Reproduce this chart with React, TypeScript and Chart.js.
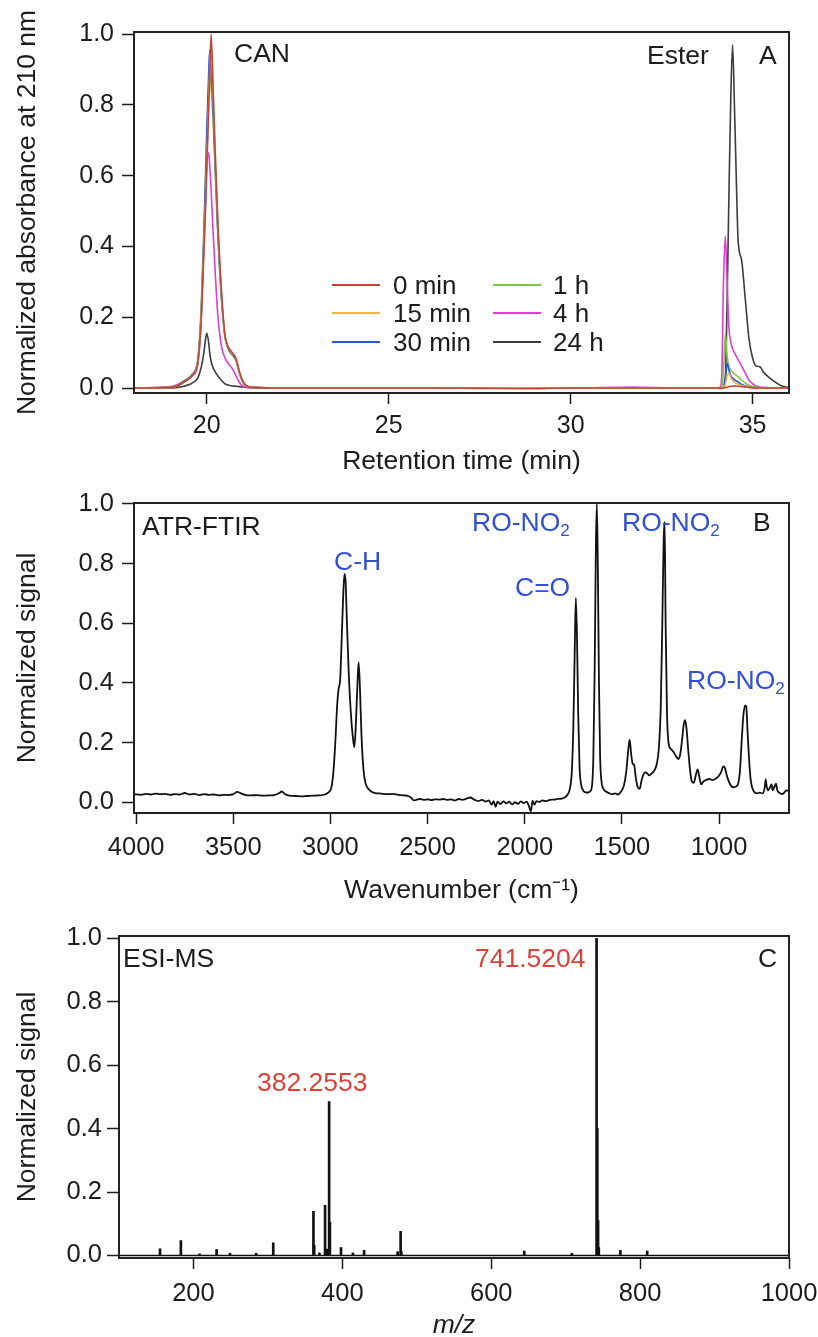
import React, { useEffect, useRef } from "react";
import { Chart, registerables } from "chart.js";

Chart.register(...registerables);

const FONT = "'Liberation Sans', Arial, Helvetica, sans-serif";
const INK = "#1c1c1c";
const NOTE_BLUE = "#3150d6";
const NOTE_RED = "#d8433c";

// ---------------- Panel A : HPLC chromatograms ----------------
const retentionTime = [
  18.0, 19.0, 19.2, 19.4, 19.6, 19.75, 19.85, 19.92, 19.97, 20.0,
  20.05, 20.08, 20.12, 20.17, 20.22, 20.3, 20.4, 20.5, 20.6, 20.7,
  20.8, 20.9, 21.0, 21.1, 21.3,
  22.0, 24.0, 26.0, 27.5, 28.7, 30.0, 31.7, 33.0, 34.0,
  34.1, 34.15, 34.2, 34.25, 34.3, 34.35, 34.4, 34.45, 34.5, 34.55,
  34.6, 34.7, 34.8, 34.9, 35.0, 35.1, 35.2, 35.3, 35.45, 35.6, 35.8, 36.0,
];
const abs0min = [
  0.0, 0.002, 0.006, 0.018, 0.035, 0.07, 0.2, 0.38, 0.52, 0.62,
  0.78, 0.88, 1.0, 0.86, 0.7, 0.48, 0.28, 0.15, 0.115, 0.1,
  0.085, 0.045, 0.018, 0.006, 0.002,
  0.0, 0.0, 0.0, -0.001, -0.002, 0.0, 0.0, 0.0, 0.0,
  -0.001, 0.0, 0.0, 0.001, 0.002, 0.004, 0.005, 0.005, 0.006, 0.005,
  0.005, 0.004, 0.003, 0.002, 0.001, 0.0, 0.0, 0.0, 0.0, 0.0, 0.0, 0.0,
];
const abs15min = [
  0.0, 0.002, 0.006, 0.018, 0.036, 0.072, 0.21, 0.4, 0.54, 0.64,
  0.8, 0.9, 0.975, 0.84, 0.69, 0.47, 0.275, 0.148, 0.113, 0.098,
  0.083, 0.044, 0.017, 0.006, 0.002,
  0.0, 0.0, 0.0, 0.0, 0.0, 0.0, 0.001, 0.0, 0.0,
  0.0, 0.0, 0.002, 0.01, 0.035, 0.042, 0.03, 0.022, 0.016, 0.013,
  0.011, 0.007, 0.004, 0.002, 0.001, 0.0, 0.0, 0.0, 0.0, 0.0, 0.0, 0.0,
];
const abs30min = [
  0.0, 0.002, 0.007, 0.02, 0.038, 0.075, 0.22, 0.43, 0.6, 0.72,
  0.88, 0.955, 0.9, 0.8, 0.66, 0.45, 0.26, 0.145, 0.11, 0.095,
  0.08, 0.042, 0.016, 0.005, 0.002,
  0.0, 0.0, 0.0, 0.0, 0.0, 0.0, 0.001, 0.0, 0.0,
  0.0, 0.0, 0.003, 0.03, 0.07, 0.05, 0.035, 0.028, 0.024, 0.02,
  0.017, 0.01, 0.006, 0.003, 0.001, 0.0, 0.0, 0.0, 0.0, 0.0, 0.0, 0.0,
];
const abs1h = [
  0.0, 0.003, 0.008, 0.022, 0.04, 0.08, 0.24, 0.45, 0.62, 0.72,
  0.84, 0.885, 0.85, 0.76, 0.64, 0.44, 0.26, 0.145, 0.108, 0.093,
  0.078, 0.04, 0.015, 0.005, 0.002,
  0.0, 0.0, 0.0, 0.0, 0.0, 0.0, 0.001, 0.0, 0.0,
  0.0, 0.001, 0.05, 0.155, 0.09, 0.06, 0.05, 0.045, 0.04, 0.036,
  0.032, 0.022, 0.014, 0.008, 0.004, 0.002, 0.001, 0.0, 0.0, 0.0, 0.0, 0.0,
];
const abs4h = [
  0.0, 0.004, 0.01, 0.022, 0.035, 0.065, 0.2, 0.42, 0.56, 0.63,
  0.665, 0.63, 0.56, 0.45, 0.35, 0.21, 0.12, 0.085, 0.068, 0.055,
  0.035, 0.015, 0.005, 0.002, 0.001,
  0.0, 0.0, 0.0, 0.001, 0.0, 0.0, 0.003, 0.0, 0.0,
  0.002, 0.03, 0.3, 0.43, 0.3, 0.17, 0.13, 0.11, 0.1, 0.09,
  0.08, 0.062, 0.042, 0.022, 0.012, 0.006, 0.003, 0.002, 0.001, 0.0, 0.0, 0.0,
];
const abs24h = [
  0.0, 0.0, 0.002, 0.006, 0.014, 0.028, 0.06, 0.1, 0.14, 0.155,
  0.13, 0.1, 0.075, 0.058, 0.048, 0.035, 0.022, 0.012, 0.008, 0.006,
  0.005, 0.004, 0.003, 0.002, 0.001,
  0.0, 0.0, 0.0, 0.0, 0.0, 0.0, 0.001, 0.0, 0.0,
  0.0, 0.0, 0.0, 0.02, 0.25, 0.55, 0.82, 0.97, 0.8, 0.6,
  0.42, 0.36, 0.25, 0.14, 0.085, 0.062, 0.06, 0.045, 0.03, 0.018, 0.006, 0.002,
];
const seriesLabels = ["0 min", "15 min", "30 min", "1 h", "4 h", "24 h"];
const seriesColors = ["#c0463a", "#f2b446", "#2a52e0", "#80c24e", "#e03ed2", "#3c3c3c"];
const timeTicks = [20, 25, 30, 35];
const normTicks = [0, 0.2, 0.4, 0.6, 0.8, 1.0];

// ---------------- Panel B : ATR-FTIR ----------------
const wavenumber = [
  4010, 3975, 3950, 3925, 3900, 3875, 3850, 3825, 3800, 3775,
  3750, 3725, 3700, 3675, 3650, 3625, 3600, 3575, 3550, 3525,
  3500, 3480, 3460, 3440, 3410, 3380, 3350, 3320, 3290, 3265,
  3250, 3235, 3210, 3180, 3150, 3120, 3090, 3060, 3030, 3010,
  2995, 2985, 2975, 2965, 2958, 2950, 2942, 2935, 2928, 2922,
  2915, 2905, 2895, 2885, 2877, 2870, 2862, 2855, 2848, 2840,
  2830, 2820, 2805, 2790, 2770, 2740, 2710, 2680, 2650, 2620,
  2600, 2585, 2570, 2555, 2540, 2520, 2500, 2480, 2460, 2440,
  2420, 2400, 2380, 2360, 2340, 2320, 2300, 2280, 2260, 2240,
  2220, 2200, 2185, 2170, 2160, 2150, 2140, 2125, 2110, 2095,
  2080, 2065, 2050, 2035, 2020, 2005, 1990, 1980, 1968, 1960,
  1950, 1940, 1925, 1910, 1890, 1870, 1850, 1830, 1810, 1795,
  1780, 1768, 1758, 1750, 1743, 1737, 1731, 1725, 1718, 1710,
  1700, 1690, 1675, 1665, 1655, 1647, 1640, 1634, 1629, 1624,
  1618, 1612, 1605, 1595, 1580, 1565, 1550, 1535, 1520, 1505,
  1490, 1478, 1468, 1460, 1452, 1445, 1437, 1428, 1418, 1408,
  1400, 1390, 1380, 1370, 1360, 1350, 1340, 1330, 1320, 1310,
  1300, 1292, 1285, 1280, 1275, 1268, 1260, 1250, 1236, 1222,
  1210, 1200, 1190, 1182, 1175, 1168, 1158, 1148, 1140, 1130,
  1120, 1110, 1100, 1092, 1080, 1065, 1050, 1035, 1020, 1005,
  990, 978, 970, 960, 950, 938, 928, 915, 903, 893,
  884, 875, 866, 860, 852, 845, 838, 830, 820, 805,
  790, 775, 765, 760, 754, 747, 738, 730, 724, 716,
  707, 700, 695, 685, 678, 665, 655, 645,
];
const ftirSignal = [
  0.027, 0.025, 0.028, 0.026, 0.029, 0.027, 0.028, 0.025, 0.027, 0.026,
  0.031, 0.026, 0.028, 0.024, 0.027, 0.025, 0.026, 0.023, 0.025, 0.024,
  0.027, 0.035, 0.03, 0.025, 0.023, 0.024, 0.022, 0.023, 0.024, 0.03,
  0.036, 0.028, 0.022, 0.021, 0.02, 0.021, 0.022, 0.023, 0.026, 0.033,
  0.05, 0.1, 0.2, 0.33, 0.38, 0.41, 0.55, 0.68, 0.765, 0.74,
  0.6, 0.42, 0.3, 0.22, 0.185, 0.25, 0.38, 0.47, 0.38, 0.22,
  0.11, 0.065, 0.045, 0.036, 0.031, 0.029, 0.027, 0.028, 0.025, 0.023,
  0.021, 0.015, 0.006, 0.009, 0.011, 0.008, 0.01, 0.007, 0.01, 0.009,
  0.011, 0.008, 0.01, 0.006, 0.011, 0.008, 0.012, 0.016, 0.009, 0.004,
  0.008, 0.002, 0.006, -0.008, 0.004, -0.015, 0.002, -0.006, 0.003, -0.004,
  0.002, -0.007, 0.0, -0.005, 0.003, -0.003, 0.002, -0.01, -0.03, 0.005,
  -0.008, 0.004, 0.001, 0.006, 0.004, 0.008, 0.009, 0.011, 0.012, 0.016,
  0.025, 0.045, 0.1, 0.25, 0.5, 0.685, 0.55, 0.3, 0.12, 0.06,
  0.04, 0.034, 0.032, 0.036, 0.05, 0.15, 0.45, 0.85, 1.0, 0.8,
  0.4, 0.15, 0.07, 0.045, 0.035, 0.03, 0.027, 0.03, 0.026, 0.035,
  0.055, 0.1, 0.17, 0.21, 0.16, 0.13, 0.125, 0.08, 0.05, 0.045,
  0.07, 0.092, 0.1, 0.097, 0.09, 0.095, 0.1, 0.11, 0.13, 0.18,
  0.32, 0.6, 0.88, 0.94, 0.6, 0.3, 0.2, 0.18, 0.17, 0.155,
  0.145, 0.16, 0.21, 0.26, 0.275, 0.25, 0.17, 0.1, 0.07, 0.065,
  0.09, 0.11, 0.08, 0.06, 0.07, 0.075, 0.078, 0.074, 0.078, 0.085,
  0.1, 0.12, 0.115, 0.09, 0.07, 0.055, 0.05, 0.052, 0.06, 0.1,
  0.2, 0.29, 0.325, 0.32, 0.22, 0.14, 0.08, 0.05, 0.035, 0.03,
  0.032, 0.03, 0.05, 0.077, 0.05, 0.04, 0.05, 0.06, 0.04, 0.05,
  0.062, 0.04, 0.035, 0.03, 0.027, 0.032, 0.04, 0.038,
];
const wavenumberTicks = [1000, 1500, 2000, 2500, 3000, 3500, 4000];

// ---------------- Panel C : ESI-MS ----------------
const mzValues = [
  155.1, 183.1, 208.1, 231.1, 249.1, 284.2, 307.2, 361.2, 362.2, 369.2,
  376.8, 379.2, 382.2553, 383.26, 398.2, 414.2, 429.2, 474.3, 478.3, 479.3,
  644.4, 708.4, 741.5204, 742.52, 743.53, 744.53, 773.5, 809.5,
];
const msSignal = [
  0.021, 0.047, 0.005, 0.019, 0.007, 0.007, 0.04, 0.139, 0.032, 0.008,
  0.158, 0.02, 0.485, 0.105, 0.025, 0.008, 0.016, 0.012, 0.076, 0.012,
  0.014, 0.007, 1.0, 0.4, 0.11, 0.025, 0.016, 0.014,
];
const msBaselineMz = [100, 1000];
const msBaselineSignal = [0, 0];
const mzTicks = [200, 400, 600, 800, 1000];

// ---------------- helpers ----------------
const framePlugin = {
  id: "frameBox",
  afterDatasetsDraw(chart: any) {
    const { ctx, chartArea: a } = chart;
    ctx.save();
    ctx.strokeStyle = "#222";
    ctx.lineWidth = 2;
    ctx.strokeRect(a.left, a.top, a.right - a.left, a.bottom - a.top);
    ctx.restore();
  },
};

function axisX(o: any) {
  return {
    type: "linear",
    min: o.min,
    max: o.max,
    reverse: !!o.reverse,
    offset: false,
    afterBuildTicks: (s: any) => {
      s.ticks = o.ticks.map((v: number) => ({ value: v }));
    },
    afterFit: (s: any) => {
      s.height = o.height;
      s.paddingLeft = 0;
      s.paddingRight = 0;
    },
    grid: {
      display: true,
      drawOnChartArea: false,
      drawTicks: true,
      tickLength: 11,
      tickWidth: 1.5,
      tickColor: INK,
      offset: false,
    },
    border: { display: false },
    ticks: {
      color: INK,
      font: { family: FONT, size: o.tickSize, lineHeight: 1 },
      padding: o.tickPad,
      maxRotation: 0,
      autoSkip: false,
      callback: (v: any) => String(v),
    },
    title: {
      display: true,
      text: o.title,
      color: INK,
      font: { family: FONT, size: 26.5, lineHeight: 1, style: o.italic ? "italic" : "normal" },
      padding: { top: 0, bottom: o.titlePad },
    },
  };
}

function axisY(o: any) {
  return {
    type: "linear",
    min: o.min,
    max: o.max,
    afterBuildTicks: (s: any) => {
      s.ticks = normTicks.map((v: number) => ({ value: v }));
    },
    afterFit: (s: any) => {
      s.width = o.width;
      s.paddingTop = 0;
      s.paddingBottom = 0;
    },
    grid: {
      display: true,
      drawOnChartArea: false,
      drawTicks: true,
      tickLength: 12,
      tickWidth: 1.5,
      tickColor: INK,
    },
    border: { display: false },
    ticks: {
      color: INK,
      font: { family: FONT, size: o.tickSize },
      padding: o.tickPad,
      autoSkip: false,
      callback: (v: any) => Number(v).toFixed(1),
    },
    title: {
      display: true,
      text: o.title,
      color: INK,
      font: { family: FONT, size: 26.5, lineHeight: 1 },
      padding: { top: o.titlePad, bottom: 0 },
    },
  };
}

const commonPlugins = { legend: { display: false }, tooltip: { enabled: false } };

function Note(props: any) {
  const size = props.size || 26.5;
  return (
    <div
      style={{
        position: "absolute",
        left: props.x,
        top: props.cy - size / 2,
        fontFamily: FONT,
        fontSize: size,
        lineHeight: `${size}px`,
        color: props.color || INK,
        whiteSpace: "nowrap",
        fontStyle: props.italic ? "italic" : "normal",
      }}
    >
      {props.children}
    </div>
  );
}

const Sub2 = () => (
  <span style={{ fontSize: 17, verticalAlign: -5, lineHeight: "17px" }}>2</span>
);

export default function App() {
  const refA = useRef<HTMLCanvasElement>(null);
  const refB = useRef<HTMLCanvasElement>(null);
  const refC = useRef<HTMLCanvasElement>(null);

  useEffect(() => {
    const chromSeries = [abs0min, abs15min, abs30min, abs1h, abs4h, abs24h];
    const chartA = new Chart(refA.current as HTMLCanvasElement, {
      type: "line",
      data: {
        datasets: chromSeries.map((vals, i) => ({
          label: seriesLabels[i],
          data: retentionTime.map((t, j) => ({ x: t, y: vals[j] })),
          borderColor: seriesColors[i],
          borderWidth: 1.6,
          pointRadius: 0,
          fill: false,
          cubicInterpolationMode: "monotone",
        })),
      },
      options: {
        responsive: false,
        animation: false,
        layout: { padding: { left: 0, right: 29, top: 32, bottom: 0 } },
        plugins: commonPlugins,
        scales: {
          x: axisX({ min: 18, max: 36, ticks: timeTicks, title: "Retention time (min)", height: 82, tickSize: 25, tickPad: 10, titlePad: 0 }),
          y: axisY({ min: -0.014, max: 1.006, title: "Normalized absorbance at 210 nm", width: 134, tickSize: 25, tickPad: 8, titlePad: 14 }),
        },
      } as any,
      plugins: [framePlugin],
    } as any);

    const chartB = new Chart(refB.current as HTMLCanvasElement, {
      type: "line",
      data: {
        datasets: [
          {
            label: "ATR-FTIR",
            data: wavenumber.map((w, i) => ({ x: w, y: ftirSignal[i] })),
            borderColor: "#111",
            borderWidth: 1.8,
            pointRadius: 0,
            fill: false,
            cubicInterpolationMode: "monotone",
          },
        ],
      },
      options: {
        responsive: false,
        animation: false,
        layout: { padding: { left: 0, right: 29, top: 28, bottom: 0 } },
        plugins: commonPlugins,
        scales: {
          x: axisX({ min: 640, max: 4011, reverse: true, ticks: wavenumberTicks, title: "Wavenumber (cm\u207B\u00B9)", height: 97, tickSize: 25.5, tickPad: 11, titlePad: 6 }),
          y: axisY({ min: -0.036, max: 1.003, title: "Normalized signal", width: 134, tickSize: 25.5, tickPad: 8, titlePad: 14 }),
        },
      } as any,
      plugins: [framePlugin],
    } as any);

    const chartC = new Chart(refC.current as HTMLCanvasElement, {
      type: "bar",
      data: {
        datasets: [
          {
            type: "bar",
            label: "ESI-MS",
            data: mzValues.map((m, i) => ({ x: m, y: msSignal[i] })),
            backgroundColor: "#111",
            borderWidth: 0,
            barThickness: 2,
            grouped: false,
          },
          {
            type: "line",
            label: "baseline",
            data: msBaselineMz.map((m, i) => ({ x: m, y: msBaselineSignal[i] })),
            borderColor: "#111",
            borderWidth: 1.6,
            pointRadius: 0,
          },
        ],
      },
      options: {
        responsive: false,
        animation: false,
        layout: { padding: { left: 0, right: 29, top: 26, bottom: 0 } },
        plugins: commonPlugins,
        scales: {
          x: axisX({ min: 100, max: 1000, ticks: mzTicks, title: "m/z", italic: true, height: 79, tickSize: 25.5, tickPad: 12, titlePad: -2 }),
          y: axisY({ min: -0.008, max: 1.007, title: "Normalized signal", width: 119, tickSize: 25.5, tickPad: 5, titlePad: 14 }),
        },
      } as any,
      plugins: [framePlugin],
    } as any);

    return () => {
      chartA.destroy();
      chartB.destroy();
      chartC.destroy();
    };
  }, []);

  const legendRows = [285, 313, 342];
  const legendLineX = [332, 493];
  const legendTextX = [393, 553];

  return (
    <div style={{ position: "absolute", left: 0, top: 0, width: 818, height: 1337, background: "#fff", overflow: "hidden" }}>
      <canvas ref={refA} width={818} height={475} style={{ position: "absolute", left: 0, top: 0 }} />
      <canvas ref={refB} width={818} height={435} style={{ position: "absolute", left: 0, top: 475 }} />
      <canvas ref={refC} width={818} height={427} style={{ position: "absolute", left: 0, top: 910 }} />

      {/* Panel A annotations */}
      <Note x={234} cy={53}>CAN</Note>
      <Note x={647} cy={55}>Ester</Note>
      <Note x={759} cy={55}>A</Note>
      {seriesLabels.map((lab, i) => {
        const col = i < 3 ? 0 : 1;
        const row = i % 3;
        return (
          <React.Fragment key={lab}>
            <div
              style={{
                position: "absolute",
                left: legendLineX[col],
                top: legendRows[row] - 1,
                width: 48,
                height: 2,
                background: seriesColors[i],
              }}
            />
            <Note x={legendTextX[col]} cy={legendRows[row]} size={26}>
              {lab}
            </Note>
          </React.Fragment>
        );
      })}

      {/* Panel B annotations */}
      <Note x={142} cy={526}>ATR-FTIR</Note>
      <Note x={753} cy={522}>B</Note>
      <Note x={334} cy={561} color={NOTE_BLUE}>C-H</Note>
      <Note x={515} cy={587} color={NOTE_BLUE}>C=O</Note>
      <Note x={472} cy={522} color={NOTE_BLUE}>RO-NO<Sub2 /></Note>
      <Note x={622} cy={522} color={NOTE_BLUE}>RO-NO<Sub2 /></Note>
      <Note x={687} cy={680} color={NOTE_BLUE}>RO-NO<Sub2 /></Note>

      {/* Panel C annotations */}
      <Note x={123} cy={958}>ESI-MS</Note>
      <Note x={475} cy={958} color={NOTE_RED}>741.5204</Note>
      <Note x={758} cy={958}>C</Note>
      <Note x={257} cy={1082} color={NOTE_RED}>382.2553</Note>
    </div>
  );
}
